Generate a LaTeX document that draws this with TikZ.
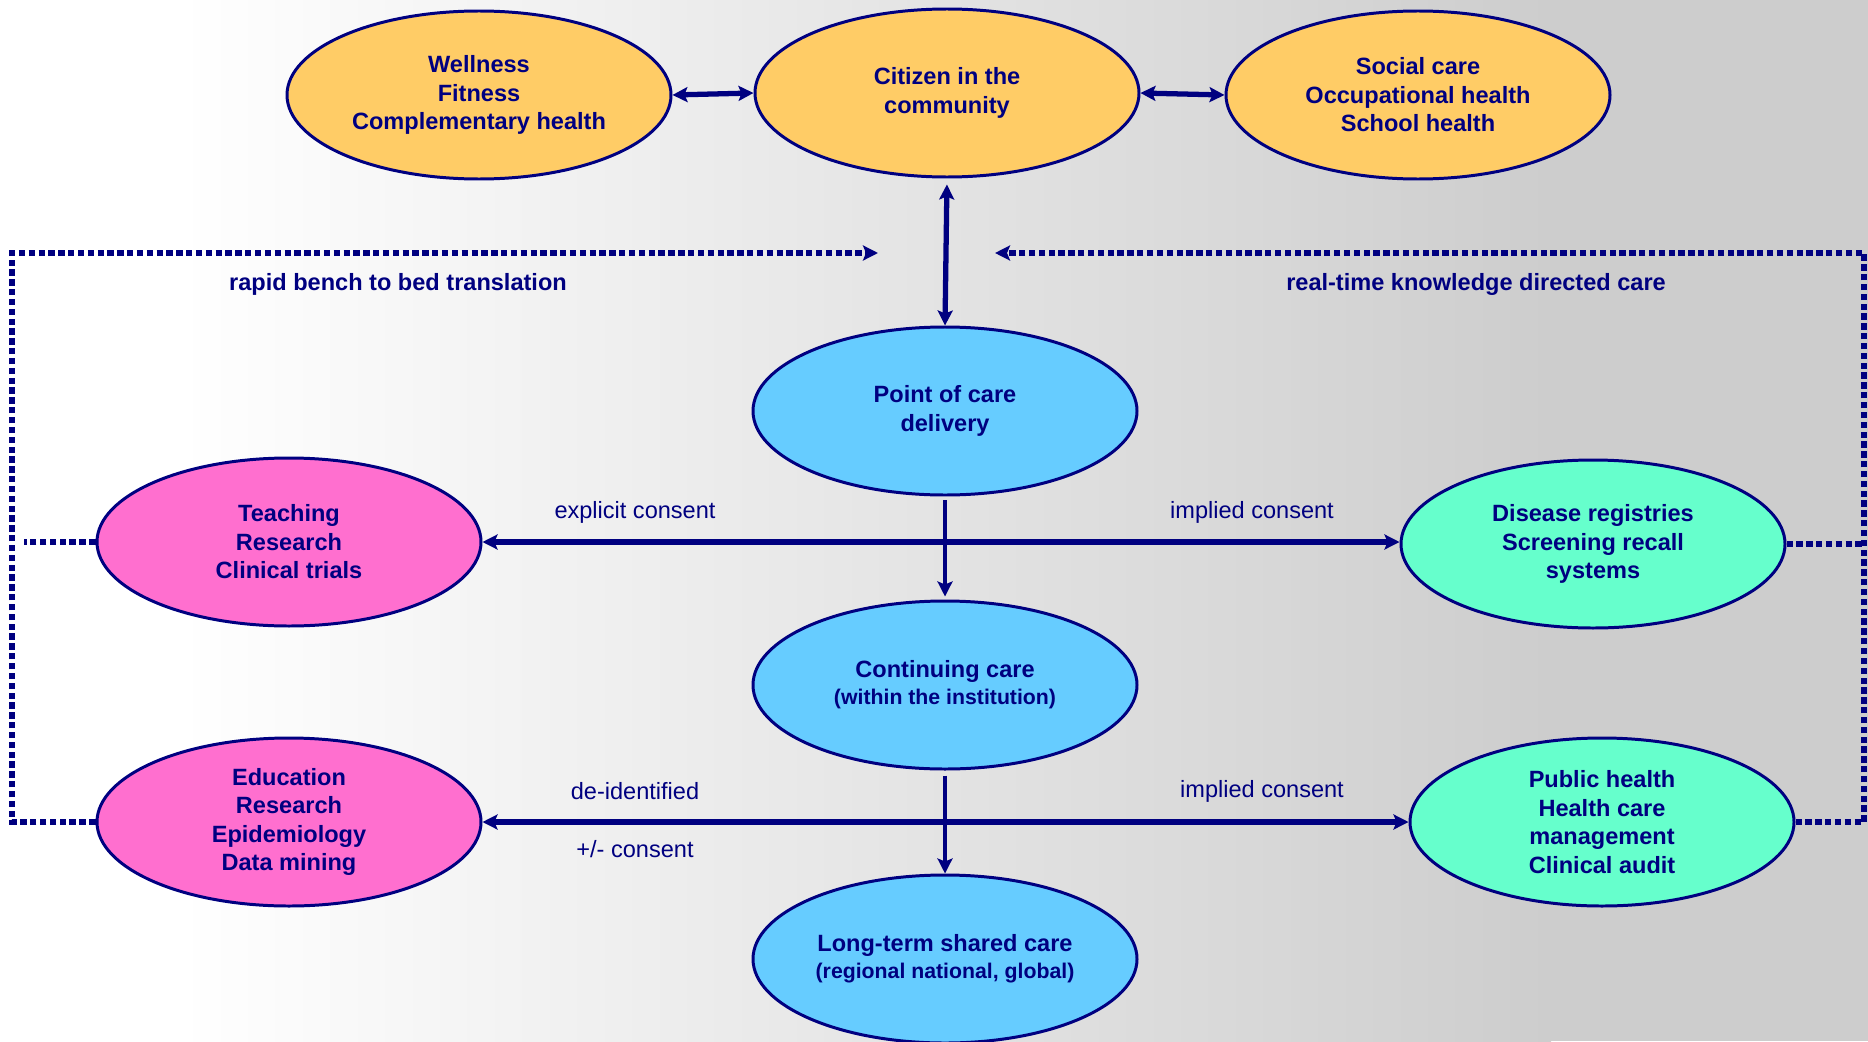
\documentclass[tikz,border=0pt]{standalone}
\usepackage{fontspec}
\setmainfont{Liberation Sans}
\usetikzlibrary{shapes.geometric, arrows.meta}

\definecolor{navy}{HTML}{000080}
\definecolor{sand}{HTML}{FFCC66}
\definecolor{sky}{HTML}{66CCFF}
\definecolor{rose}{HTML}{FF6FCF}
\definecolor{mint}{HTML}{66FFCC}
\definecolor{bggray}{HTML}{CDCDCD}

\tikzset{
  bubble/.style={ellipse, draw=navy, line width=0.85pt, minimum width=3.84cm,
    minimum height=1.68cm, inner sep=0pt, align=center, text=navy,
    font=\bfseries\fontsize{6.7}{8.1}\selectfont},
  tip/.style={-{Stealth[length=1.5mm, width=1.5mm, inset=0.3mm]}},
  link/.style={navy, line width=1.4pt, tip},
  twoway/.style={navy, line width=1.5pt,
    {Stealth[length=1.5mm, width=1.5mm, inset=0.3mm]}-{Stealth[length=1.5mm, width=1.5mm, inset=0.3mm]}},
  feedback/.style={navy, line width=1.5pt, dash pattern=on 1.8pt off 1.0pt},
  tag/.style={text=navy, font=\fontsize{6.7}{8.1}\selectfont},
  boldtag/.style={text=navy, font=\bfseries\fontsize{6.7}{8.1}\selectfont}
}

\begin{document}
\begin{tikzpicture}
  % background
  \useasboundingbox (0,0) rectangle (18.68,10.41);
  \fill[white] (0,0) rectangle (1.8,10.41);
  \shade[left color=white, right color=bggray] (1.79,0) rectangle (15.51,10.41);
  \fill[bggray] (15.5,0) rectangle (18.68,10.41);

  % community row
  \node[bubble, fill=sand] (wellness) at (4.79,9.46) {Wellness\\Fitness\\Complementary health};
  \node[bubble, fill=sand] (citizen) at (9.47,9.48) {Citizen in the\\community};
  \node[bubble, fill=sand] (social) at (14.18,9.46) {Social care\\Occupational health\\School health};

  % care chain
  \node[bubble, fill=sky] (point) at (9.45,6.30) {Point of care\\delivery};
  \node[bubble, fill=sky] (continuing) at (9.45,3.56) {Continuing care\\[-0.5pt]{\fontsize{6.05}{7.5}\selectfont (within the institution)}};
  \node[bubble, fill=sky] (longterm) at (9.45,0.82) {Long-term shared care\\[-0.5pt]{\fontsize{6.05}{7.5}\selectfont (regional national, global)}};

  % secondary uses
  \node[bubble, fill=rose] (teaching) at (2.89,4.99) {Teaching\\Research\\Clinical trials};
  \node[bubble, fill=rose] (education) at (2.89,2.19) {Education\\Research\\Epidemiology\\Data mining};
  \node[bubble, fill=mint] (disease) at (15.93,4.97) {Disease registries\\Screening recall\\systems};
  \node[bubble, fill=mint] (public) at (16.02,2.19) {Public health\\Health care\\management\\Clinical audit};

  % connectors
  \draw[twoway] (wellness.east) -- (citizen.west);
  \draw[twoway] (citizen.east) -- (social.west);
  \draw[twoway, shorten <=0.06cm] (citizen.south) -- (point.north);
  \draw[link, shorten <=0.04cm, shorten >=0.03cm] (point.south) -- (continuing.north);
  \draw[link, shorten <=0.05cm] (continuing.south) -- (longterm.north);

  \coordinate (split1) at (point.south |- teaching.east);
  \coordinate (split2) at (continuing.south |- education.east);
  \draw[link, line width=1.5pt] (split1) -- (teaching.east);
  \draw[link, line width=1.5pt] (split1) -- (split1 -| disease.west);
  \draw[link, line width=1.5pt] (split2) -- (education.east);
  \draw[link, line width=1.5pt] (split2) -- (split2 -| public.west);

  % feedback loops
  \coordinate (leftcorner) at (0.12,7.88);
  \coordinate (leftend) at (8.78,7.88);
  \coordinate (rightcorner) at (18.64,7.88);
  \coordinate (rightend) at (9.95,7.88);
  \draw[feedback, tip] (education.west) -| (leftcorner) -- (leftend);
  \draw[feedback] (teaching.west) -- ++(-0.72,0);
  \draw[feedback, tip] (public.east) -| (rightcorner) -- (rightend);
  \draw[feedback] (disease.east) -- (disease.east -| rightcorner);

  % labels
  \node[boldtag] (bench) at (3.98,7.57) {rapid bench to bed translation};
  \node[boldtag] (realtime) at (14.76,7.57) {real-time knowledge directed care};
  \node[tag] (explicit) at (6.35,5.29) {explicit consent};
  \node[tag] (implied) at (12.52,5.29) {implied consent};
  \node[tag] (deident) at (6.35,2.50) {de-identified};
  \node[tag] (plusminus) at (6.35,1.92) {+/- consent};
  \node[tag] (implied2) at (12.62,2.50) {implied consent};
\end{tikzpicture}
\end{document}
